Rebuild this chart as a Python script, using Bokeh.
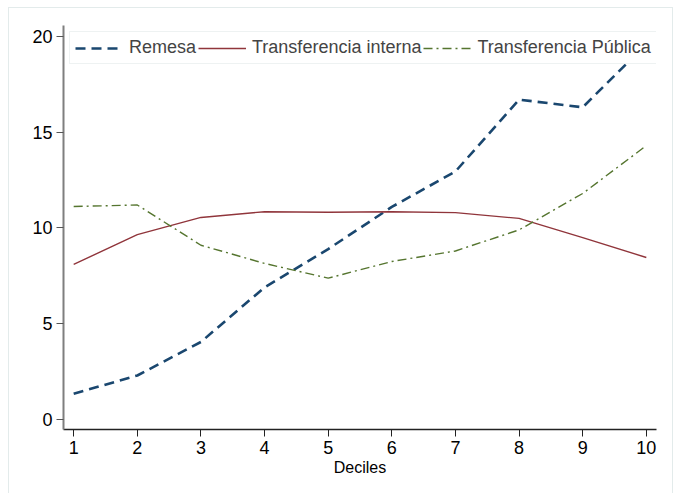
from bokeh.plotting import figure
from bokeh.models import Range1d, Legend, LegendItem, FixedTicker
from bokeh.embed import file_html
from bokeh.resources import INLINE

deciles = [1, 2, 3, 4, 5, 6, 7, 8, 9, 10]
remesa = [1.35, 2.3, 4.05, 6.9, 8.9, 11.1, 12.95, 16.7, 16.3, 19.6]
interna = [8.1, 9.65, 10.55, 10.85, 10.82, 10.85, 10.8, 10.5, 9.5, 8.46]
publica = [11.12, 11.2, 9.1, 8.15, 7.38, 8.25, 8.8, 9.9, 11.8, 14.3]
x_ticks = [1, 2, 3, 4, 5, 6, 7, 8, 9, 10]
y_ticks = [0, 5, 10, 15, 20]

FONT = "Liberation Sans"

p = figure(width=665, height=487,
           x_range=Range1d(0.84, 10.16), y_range=Range1d(-0.52, 20.57),
           output_backend="svg", toolbar_location=None,
           min_border_left=54, min_border_right=18,
           min_border_top=17, min_border_bottom=66)
p.styles = {"margin-left": "8px", "margin-top": "7px",
            "border": "1px solid #e3ebeb", "box-sizing": "border-box"}
p.outline_line_color = None
p.xgrid.visible = False
p.ygrid.visible = False
p.background_fill_color = "white"
p.border_fill_color = "white"

r1 = p.line(deciles, remesa, line_color="#1a476f", line_width=2.6, line_dash="10 6")
r2 = p.line(deciles, interna, line_color="#90353b", line_width=1.4)
r3 = p.line(deciles, publica, line_color="#55752f", line_width=1.4, line_dash="9 4 2 4")

legend = Legend(items=[
    LegendItem(label="Remesa", renderers=[r1]),
    LegendItem(label="Transferencia interna", renderers=[r2]),
    LegendItem(label="Transferencia Pública", renderers=[r3]),
], orientation="horizontal", location="top_left", margin=6, padding=5, spacing=2,
    glyph_width=48, glyph_height=20, label_standoff=6,
    label_text_font_size="18px", label_text_font=FONT,
    border_line_color="#dde6e6", border_line_width=1,
    background_fill_color="white", background_fill_alpha=1.0)
p.add_layout(legend, "center")

p.xaxis.ticker = FixedTicker(ticks=x_ticks)
p.yaxis.ticker = FixedTicker(ticks=y_ticks)
p.xaxis.minor_tick_line_color = None
p.yaxis.minor_tick_line_color = None
for ax in (p.xaxis, p.yaxis):
    ax.major_label_text_font = FONT
    ax.major_label_text_font_size = "18px"
    ax.major_label_text_color = "black"
    ax.major_tick_in = 0
    ax.major_tick_out = 7
    ax.major_label_standoff = 4
p.xaxis.axis_line_color = "#222222"
p.xaxis.axis_line_width = 1.5
p.xaxis.major_tick_line_color = "#222222"
p.yaxis.axis_line_color = "#7f7f7f"
p.yaxis.axis_line_width = 2
p.yaxis.major_tick_line_color = "#555555"
p.yaxis.major_label_orientation = "horizontal"

p.xaxis.axis_label = "Deciles"
p.xaxis.axis_label_text_font = FONT
p.xaxis.axis_label_text_font_size = "16px"
p.xaxis.axis_label_text_font_style = "normal"
p.xaxis.axis_label_text_color = "black"
p.xaxis.axis_label_standoff = 2

open("out.html", "w").write(file_html(p, INLINE))
